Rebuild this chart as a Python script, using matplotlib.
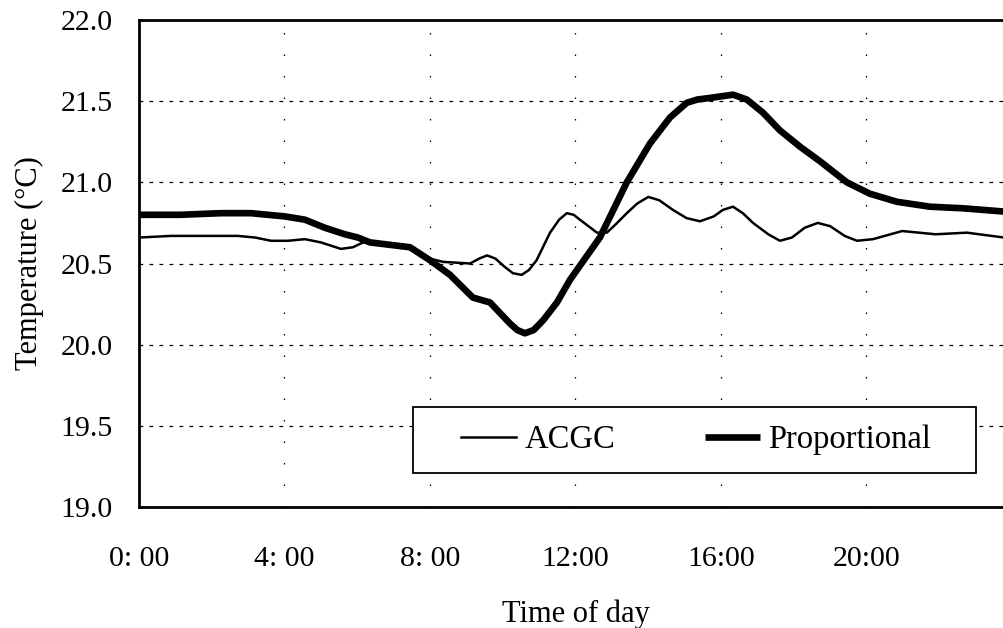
import matplotlib.pyplot as plt
from matplotlib.patches import Rectangle

plt.rcParams['font.family'] = ['Liberation Serif', 'DejaVu Serif']

# Time of day in hours, temperature in deg C
acgc_hours = [0.0, 0.88, 1.81, 2.72, 3.19, 3.63, 4.10, 4.56, 5.00, 5.55, 5.88, 6.16,
              6.62, 7.45, 8.00, 8.36, 9.10, 9.35, 9.57, 9.80, 10.05, 10.28, 10.52, 10.72,
              10.93, 11.30, 11.55, 11.76, 11.95, 12.12, 12.59, 12.86, 13.10, 13.41, 13.70,
              14.00, 14.30, 14.68, 15.05, 15.42, 15.80, 16.05, 16.33, 16.60, 16.88,
              17.30, 17.62, 17.95, 18.30, 18.66, 19.00, 19.40, 19.74, 20.18, 20.98,
              21.90, 22.76, 23.78, 24.0]
acgc_temp = [20.66, 20.67, 20.67, 20.67, 20.66, 20.64, 20.64, 20.65, 20.63, 20.59, 20.60, 20.63,
             20.63, 20.60, 20.53, 20.51, 20.50, 20.53, 20.55, 20.53, 20.48, 20.44, 20.43, 20.46,
             20.52, 20.69, 20.77, 20.81, 20.80, 20.77, 20.69, 20.69, 20.74, 20.81, 20.87,
             20.91, 20.89, 20.83, 20.78, 20.76, 20.79, 20.83, 20.85, 20.81, 20.75,
             20.68, 20.64, 20.66, 20.72, 20.75, 20.73, 20.67, 20.64, 20.65, 20.70,
             20.68, 20.69, 20.66, 20.66]

prop_hours = [0.0, 1.13, 2.25, 3.08, 4.01, 4.56, 5.11, 5.66, 6.02, 6.35, 7.45, 8.00,
              8.55, 9.18, 9.65, 10.20, 10.40, 10.61, 10.85, 11.11, 11.49, 11.85, 12.67,
              13.41, 14.05, 14.60, 15.06, 15.35, 15.70, 16.33, 16.71, 17.15, 17.62,
              18.17, 18.72, 19.46, 20.09, 20.84, 21.74, 22.65, 23.78, 24.0]
prop_temp = [20.80, 20.80, 20.81, 20.81, 20.79, 20.77, 20.72, 20.68, 20.66, 20.63, 20.60, 20.52,
             20.43, 20.29, 20.26, 20.13, 20.09, 20.07, 20.09, 20.15, 20.26, 20.40, 20.66,
             21.00, 21.24, 21.40, 21.49, 21.51, 21.52, 21.54, 21.51, 21.43, 21.32,
             21.22, 21.13, 21.00, 20.93, 20.88, 20.85, 20.84, 20.82, 20.82]

x_ticks = [0, 4, 8, 12, 16, 20]
x_tick_labels = ['0: 00', '4: 00', '8: 00', '12:00', '16:00', '20:00']
y_ticks = [19.0, 19.5, 20.0, 20.5, 21.0, 21.5, 22.0]

W, H = 1004, 628
fig = plt.figure(figsize=(W / 100, H / 100), dpi=100)
# axes run a little past the right edge of the picture, like the cropped scan
ax = fig.add_axes([139 / W, (H - 507) / H, (1012 - 139) / W, (507 - 20) / H])

ax.plot(acgc_hours, acgc_temp, color='black', lw=1.8, label='ACGC', zorder=3)
ax.plot(prop_hours, prop_temp, color='black', lw=4.8, label='Proportional', zorder=3,
        solid_capstyle='butt')

ax.set_xlim(0, 24)
ax.set_ylim(19.0, 22.0)
ax.set_xticks(x_ticks)
ax.set_xticklabels(x_tick_labels)
ax.set_yticks(y_ticks)
ax.set_yticklabels([f'{v:.1f}' for v in y_ticks])
ax.tick_params(axis='both', length=0, labelsize=21.5, colors='black')
ax.tick_params(axis='y', pad=19)
ax.tick_params(axis='x', pad=28)

ax.yaxis.grid(True, color='black', lw=0.9, linestyle=(0, (3, 5)))
ax.xaxis.grid(True, color='black', lw=0.9, linestyle=(0, (1.2, 16)))
ax.set_axisbelow(True)

for side in ['left', 'top', 'bottom']:
    ax.spines[side].set_linewidth(2)
    ax.spines[side].set_color('black')
ax.spines['right'].set_visible(False)

ax.set_xlabel('Time of day', fontsize=22, labelpad=20)
ax.set_ylabel('Temperature (°C)', fontsize=22, labelpad=12)

# legend box
box = Rectangle((413 / W, (H - 473) / H), 563 / W, 66 / H, transform=fig.transFigure,
                facecolor='white', edgecolor='black', lw=1.3, zorder=4)
ax.add_patch(box)
leg = ax.legend(loc='center', bbox_to_anchor=(696 / W, (H - 440) / H),
                bbox_transform=fig.transFigure, ncol=2, frameon=False,
                fontsize=23.5, handlelength=1.7, handletextpad=0.25,
                columnspacing=2.75, borderpad=0)
leg.set_zorder(5)

fig.savefig('out.png', dpi=100)
